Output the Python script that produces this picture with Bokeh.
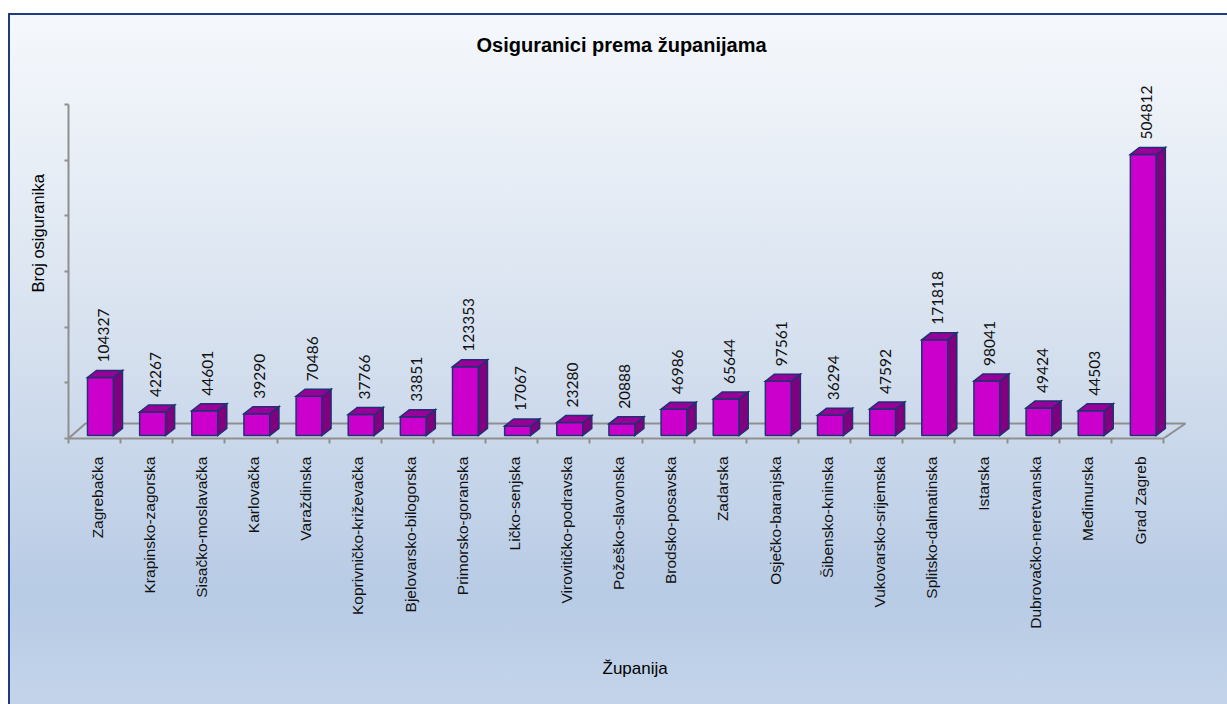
import math
from bokeh.plotting import figure
from bokeh.models import Range1d, FixedTicker, Title, ColumnDataSource
from bokeh.core.properties import value
from bokeh.embed import file_html
from bokeh.resources import INLINE

# ---- data ----
counties = ["Zagrebačka", "Krapinsko-zagorska", "Sisačko-moslavačka", "Karlovačka",
            "Varaždinska", "Koprivničko-križevačka", "Bjelovarsko-bilogorska",
            "Primorsko-goranska", "Ličko-senjska", "Virovitičko-podravska",
            "Požeško-slavonska", "Brodsko-posavska", "Zadarska", "Osječko-baranjska",
            "Šibensko-kninska", "Vukovarsko-srijemska", "Splitsko-dalmatinska",
            "Istarska", "Dubrovačko-neretvanska", "Međimurska", "Grad Zagreb"]
insured = [104327, 42267, 44601, 39290, 70486, 37766, 33851, 123353, 17067, 23280,
           20888, 46986, 65644, 97561, 36294, 47592, 171818, 98041, 49424, 44503, 504812]
y_ticks = [0, 100000, 200000, 300000, 400000, 500000, 600000]

title_text = "Osiguranici prema županijama"
y_title = "Broj osiguranika"
x_title = "Županija"

# ---- geometry (pixels) ----
off_x, off_y = 8, 13          # where the chart box starts on the page
W, H = 1227 - off_x, 704 - off_y
frame_left, frame_top = 68, 70  # page coords
frame_w, frame_h = 1122, 368
left_b, top_b = frame_left - off_x, frame_top - off_y
right_b = W - left_b - frame_w
bottom_b = H - top_b - frame_h
frame_bottom = frame_top + frame_h
n = len(counties)
px_per_cat = 1095 / n
y_axis_px = 334  # pixels for 0..600000
px_per_val = y_axis_px / y_ticks[-1]

x_end = frame_w / px_per_cat
y_end = frame_h / px_per_val

p = figure(width=W, height=H, output_backend="svg", toolbar_location=None,
           x_range=Range1d(0, x_end), y_range=Range1d(0, y_end),
           min_border_left=left_b, min_border_top=top_b,
           min_border_right=right_b, min_border_bottom=bottom_b)
p.background_fill_alpha = 0
p.border_fill_alpha = 0
p.outline_line_color = None
p.grid.visible = False
p.styles = {
    "margin-top": f"{off_y}px",
    "margin-left": f"{off_x}px",
    "background": "linear-gradient(to bottom, #f5f8fc 0%, #e8eef6 22%, #d4dfee 50%, #b8cbe5 84%, #c3d4ea 100%)",
    "box-shadow": "inset 2px 2px 0 0 #1f3b7b",
}

dxu = lambda px: px / px_per_cat
dyu = lambda px: px / px_per_val

# floor (3D base)
p.line(x=[0, dxu(17), n + dxu(22), n],
       y=[0, dyu(15), dyu(15), 0], line_color="#8f8f8f", line_width=2)

# bars
base = dyu(3)
depth_x, depth_y = dxu(9), dyu(7)
lefts = [i + dxu(19) for i in range(n)]
rights = [l + dxu(26) for l in lefts]
tops = [v + base for v in insured]
outline = "#1f3170"
p.quad(left=lefts, right=rights, bottom=base, top=tops,
       fill_color="#cc00cc", line_color=outline, line_width=1.5)
side_xs = [[r, r + depth_x, r + depth_x, r] for r in rights]
side_ys = [[base, base + depth_y, t + depth_y, t] for t in tops]
p.patches(side_xs, side_ys, fill_color="#800080", line_color=outline, line_width=1.5,
          line_join="miter")
top_xs = [[l, r, r + depth_x, l + depth_x] for l, r in zip(lefts, rights)]
top_ys = [[t, t, t + depth_y, t + depth_y] for t in tops]
p.patches(top_xs, top_ys, fill_color="#990099", line_color=outline, line_width=1.5,
          line_join="miter")

# value labels
src = ColumnDataSource(dict(x=[(l + r) / 2 for l, r in zip(lefts, rights)], y=tops,
                            t=[str(v) for v in insured]))
p.text(x="x", y="y", text="t", source=src, angle=math.pi / 2, x_offset=3, y_offset=-15,
       text_align="left", text_baseline="middle", text_font=value("Lato"),
       text_font_size="15.5px", text_color="#111111")

# y axis
ya = p.yaxis[0]
ya.ticker = FixedTicker(ticks=y_ticks)
ya.bounds = (0, y_ticks[-1])
ya.major_label_overrides = {t: "" for t in y_ticks}
ya.major_label_standoff = 0
ya.major_tick_out = 4
ya.major_tick_in = 0
ya.minor_tick_line_color = None
ya.axis_line_color = "#8f8f8f"
ya.axis_line_width = 2
ya.major_tick_line_color = "#8f8f8f"
ya.major_tick_line_width = 2

# x axis
xa = p.xaxis[0]
xa.ticker = FixedTicker(ticks=[i + 0.55 for i in range(n)], minor_ticks=list(range(n + 1)))
xa.major_label_overrides = {i + 0.55: c for i, c in enumerate(counties)}
xa.bounds = (0, n)
xa.major_label_orientation = math.pi / 2
xa.major_tick_line_color = None
xa.major_tick_out = 0
xa.major_tick_in = 0
xa.minor_tick_out = 5
xa.minor_tick_in = 0
xa.minor_tick_line_color = "#8f8f8f"
xa.minor_tick_line_width = 2
xa.axis_line_color = "#8f8f8f"
xa.axis_line_width = 2
xa.major_label_standoff = 13
xa.major_label_text_font = "Liberation Sans"
xa.major_label_text_font_size = "15.5px"
xa.major_label_text_color = "#111111"

# titles (left-aligned with pixel offsets along the frame edge)
p.add_layout(Title(text=title_text, align="left", offset=476 - frame_left, standoff=29,
                   text_font="Liberation Sans", text_font_style="bold",
                   text_font_size="20px", text_color="#000000"), "above")
p.add_layout(Title(text=y_title, align="left", offset=frame_bottom - 292, standoff=36,
                   text_font="Liberation Sans", text_font_style="normal",
                   text_font_size="16.5px", text_color="#000000"), "left")
p.add_layout(Title(text=x_title, align="left", offset=602 - frame_left, standoff=51,
                   text_font="Liberation Sans", text_font_style="normal",
                   text_font_size="17px", text_color="#000000"), "below")

open("out.html", "w").write(file_html(p, INLINE))
